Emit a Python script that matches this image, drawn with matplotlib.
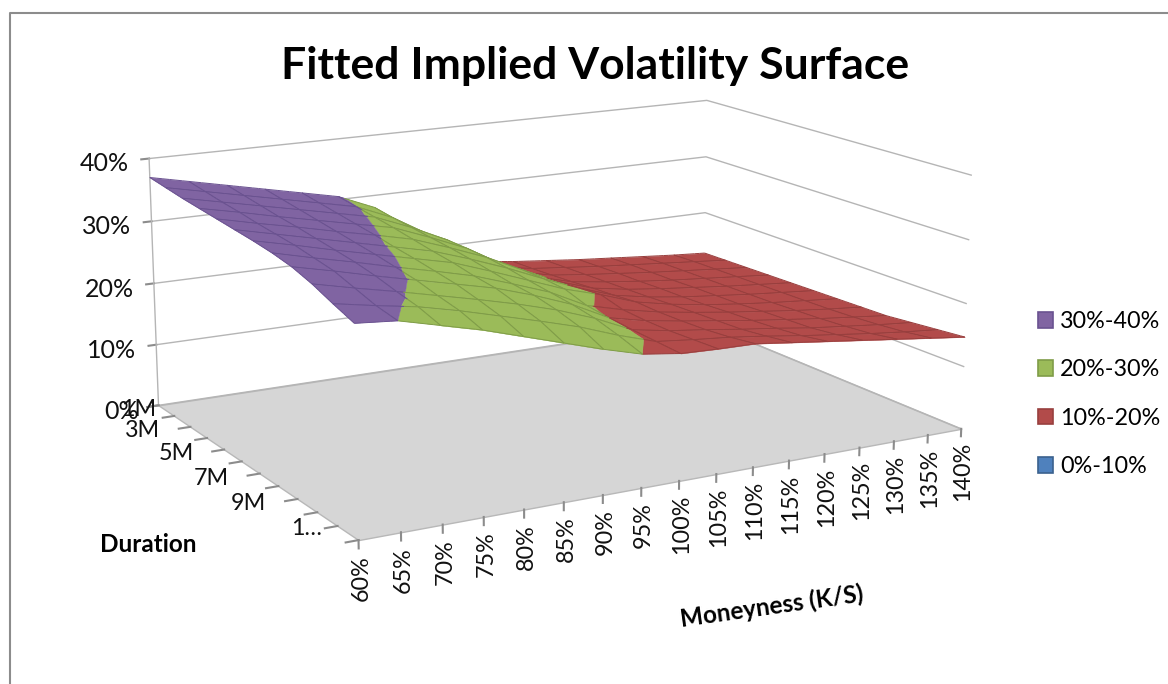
import matplotlib
matplotlib.use("Agg")
import matplotlib.pyplot as plt
import numpy as np
from matplotlib.lines import Line2D
from matplotlib.patches import Patch
from mpl_toolkits.mplot3d import proj3d
from mpl_toolkits.mplot3d.art3d import Line3DCollection, Poly3DCollection

plt.rcParams["font.family"] = ["Lato", "DejaVu Sans"]

moneyness = [60, 65, 70, 75, 80, 85, 90, 95, 100, 105, 110, 115, 120, 125, 130, 135, 140]
durations = [1, 2, 3, 4, 5, 6, 7, 8, 9, 10, 11, 12]
duration_labels = {1: "1M", 3: "3M", 5: "5M", 7: "7M", 9: "9M", 11: "1…"}
vol_levels = [0, 10, 20, 30, 40]
band_names = ["0%-10%", "10%-20%", "20%-30%", "30%-40%"]
band_colors = ["#4f81bd", "#b24b4a", "#9bbb59", "#8064a2"]
line_colors = ["#3b618e", "#983f3e", "#7f9c48", "#6a5290"]

# fitted vol in %, one row per duration
vols = [
    [37.0, 35.7, 34.4, 33.1, 31.8, 30.5, 28.0, 23.6, 19.2, 16.6, 15.8, 15.2, 14.6, 14.1, 13.6, 13.1, 12.7],
    [36.6, 35.3, 34.0, 32.7, 31.4, 30.1, 27.6, 24.1, 19.8, 17.0, 16.0, 15.4, 14.8, 14.3, 13.8, 13.3, 12.8],
    [36.2, 34.9, 33.6, 32.3, 31.0, 29.7, 27.3, 24.5, 20.5, 17.6, 16.3, 15.6, 15.0, 14.4, 13.9, 13.4, 12.9],
    [35.9, 34.6, 33.2, 31.9, 30.6, 29.3, 27.0, 24.5, 21.1, 18.2, 16.6, 15.8, 15.1, 14.5, 14.0, 13.5, 13.0],
    [35.6, 34.2, 32.9, 31.5, 30.2, 28.8, 26.7, 24.4, 21.6, 18.9, 17.0, 16.0, 15.3, 14.7, 14.1, 13.6, 13.1],
    [35.3, 33.9, 32.5, 31.1, 29.7, 28.3, 26.3, 24.1, 21.6, 19.3, 17.3, 16.2, 15.4, 14.8, 14.2, 13.7, 13.2],
    [35.0, 33.6, 32.1, 30.7, 29.3, 27.9, 25.8, 23.6, 21.4, 19.7, 17.7, 16.5, 15.6, 14.9, 14.3, 13.8, 13.3],
    [34.6, 33.1, 31.7, 30.2, 28.8, 27.3, 25.3, 23.2, 20.3, 18.8, 17.6, 16.7, 15.9, 15.2, 14.5, 13.9, 13.4],
    [34.0, 32.6, 31.1, 29.7, 28.3, 26.9, 25.0, 22.8, 19.9, 18.6, 17.7, 16.9, 16.1, 15.4, 14.7, 14.1, 13.5],
    [33.0, 31.6, 30.3, 28.9, 27.5, 26.0, 24.3, 22.2, 19.6, 18.6, 17.9, 17.1, 16.4, 15.6, 15.0, 14.4, 13.9],
    [31.7, 30.6, 29.6, 28.2, 26.6, 25.0, 23.3, 21.2, 19.4, 18.8, 18.3, 17.6, 16.8, 16.1, 15.4, 14.8, 14.3],
    [30.5, 30.0, 28.5, 27.0, 25.2, 23.4, 21.6, 20.0, 19.2, 19.0, 18.9, 18.2, 17.5, 16.8, 16.1, 15.4, 14.7],
]

W, H = 1168, 684
m_lo, m_hi = moneyness[0], moneyness[-1]
d_lo, d_hi = durations[0], durations[-1]


def clip_band(poly, lo, hi):
    # cut a polygon to lo <= z <= hi
    for level, keep_above in ((lo, True), (hi, False)):
        out = []
        for i in range(len(poly)):
            a, b = poly[i], poly[(i + 1) % len(poly)]
            a_in = a[2] >= level if keep_above else a[2] <= level
            b_in = b[2] >= level if keep_above else b[2] <= level
            if a_in:
                out.append(a)
            if a_in != b_in:
                t = (level - a[2]) / (b[2] - a[2])
                out.append(tuple(a[k] + t * (b[k] - a[k]) for k in range(3)))
        poly = out
        if not poly:
            break
    return poly


def edge_segments(a, b):
    # split one grid edge so that each piece gets its band colour
    segs, cols = [], []
    ts = np.linspace(0, 1, 7)
    a, b = np.array(a), np.array(b)
    for t0, t1 in zip(ts[:-1], ts[1:]):
        p0, p1 = a + t0 * (b - a), a + t1 * (b - a)
        segs.append([tuple(p0), tuple(p1)])
        cols.append(line_colors[int((p0[2] + p1[2]) / 20)])
    return segs, cols


fig = plt.figure(figsize=(W / 100, H / 100), dpi=100)
ax = fig.add_axes([0, 0, 1, 1], projection="3d")
ax.set_xlim(m_lo, m_hi, view_margin=0)
ax.set_ylim(d_hi, d_lo, view_margin=0)
ax.set_zlim(0, 40, view_margin=0)

# camera fitted against the box corners of the original chart
ax.view_init(elev=14.303, azim=-119.71)
ax.set_proj_type("persp", focal_length=0.5942)
ax.set_box_aspect((1, 0.7116, 0.3882))
scale, x0, y0 = 4492.05, 554.0, 390.7
xl, yl = ax.viewLim.intervalx, ax.viewLim.intervaly
ax.set_position([(x0 + scale * xl[0]) / W, (y0 + scale * yl[0]) / H, scale * (xl[1] - xl[0]) / W, scale * (yl[1] - yl[0]) / H])
ax.set_axis_off()
ax.computed_zorder = False
ax.patch.set_alpha(0)


def label3d(x, y, z, s, fontsize=16.8, **kw):
    # plain 2D text placed at a projected 3D position
    xs, ys, _ = proj3d.proj_transform(x, y, z, ax.get_proj())
    ax.text2D(xs, ys, s, transform=ax.transData, fontsize=fontsize, color="#111111", **kw)


# floor
ax.add_collection3d(Poly3DCollection(
    [[(m_lo, d_lo, 0), (m_hi, d_lo, 0), (m_hi, d_hi, 0), (m_lo, d_hi, 0)]],
    facecolors="#d6d6d6", edgecolors="#b8b8b8", linewidths=1, zorder=1, clip_on=False))

grid_c = "#b5b5b5"
tick_c = "#8c8c8c"
for z in vol_levels:
    ax.plot([m_lo, m_hi, m_hi], [d_lo, d_lo, d_hi], [z, z, z], color=grid_c, lw=1, zorder=2, clip_on=False)
    ax.plot([m_lo - 1, m_lo], [d_lo, d_lo], [z, z], color=tick_c, lw=1.5, zorder=2, clip_on=False)
    label3d(m_lo - 2.6, d_lo, z - 0.5, f"{z}%", fontsize=18, ha="right", va="center")
ax.plot([m_lo, m_lo], [d_lo, d_lo], [0, 40], color=grid_c, lw=1, zorder=2, clip_on=False)

for m in moneyness:
    ax.plot([m, m], [d_hi, d_hi], [0, -1.2], color=tick_c, lw=1.5, zorder=2, clip_on=False)
    label3d(m + 0.3, d_hi, -2.2, f"{m}%", rotation=90, ha="center", va="top")
label_gap = {1: 0.3, 3: 3.9, 5: 3.8, 7: 3.8, 9: 3.8, 11: 1.8}
for d in durations:
    ax.plot([m_lo - 1.5, m_lo], [d, d], [0, 0], color=tick_c, lw=1.5, zorder=2, clip_on=False)
    if d in duration_labels:
        label3d(m_lo - label_gap[d], d, -0.6 if d == 1 else 0.1, duration_labels[d], ha="right", va="center")

# surface, painted far to near: short durations first, high moneyness first
zo = 3
for j in range(len(durations) - 1):
    for i in reversed(range(len(moneyness) - 1)):
        p00 = (moneyness[i], durations[j], vols[j][i])
        p10 = (moneyness[i + 1], durations[j], vols[j][i + 1])
        p11 = (moneyness[i + 1], durations[j + 1], vols[j + 1][i + 1])
        p01 = (moneyness[i], durations[j + 1], vols[j + 1][i])
        polys, colors = [], []
        for b in range(4):
            piece = clip_band([p00, p10, p11, p01], vol_levels[b], vol_levels[b + 1])
            if len(piece) >= 3:
                polys.append(piece)
                colors.append(band_colors[b])
        ax.add_collection3d(Poly3DCollection(polys, facecolors=colors, edgecolors=colors, linewidths=0.3,
                                             zorder=zo, clip_on=False))
        segs, seg_c = [], []
        for a, b in ((p00, p10), (p10, p11), (p11, p01), (p01, p00)):
            s_, c_ = edge_segments(a, b)
            segs += s_
            seg_c += c_
        ax.add_collection3d(Line3DCollection(segs, colors=seg_c, linewidths=0.7, zorder=zo + 1, clip_on=False))
        zo += 2

fig.text(595 / W, 1 - 66 / H, "Fitted Implied Volatility Surface", ha="center", va="center",
         fontsize=32, fontweight="bold", color="black")
fig.text(148 / W, 1 - 545 / H, "Duration", ha="center", va="center", fontsize=17.5, fontweight="bold")
fig.text(772 / W, 1 - 606 / H, "Moneyness (K/S)", ha="center", va="center", rotation=8, fontsize=17.5, fontweight="bold")

handles = [Patch(facecolor=band_colors[b], edgecolor=line_colors[b], linewidth=1.2, label=band_names[b]) for b in (3, 2, 1, 0)]
fig.legend(handles=handles, loc="center left", bbox_to_anchor=(1038 / W, 1 - 394 / H), frameon=False, fontsize=16.8,
           handlelength=0.65, handleheight=0.65, labelspacing=1.17, handletextpad=0.3, borderpad=0, borderaxespad=0)

fig.add_artist(Line2D([10 / W, 10 / W, 1], [0, 1 - 13 / H, 1 - 13 / H], color="#8c8c8c", lw=1.5))

fig.savefig("out.png", dpi=100)
